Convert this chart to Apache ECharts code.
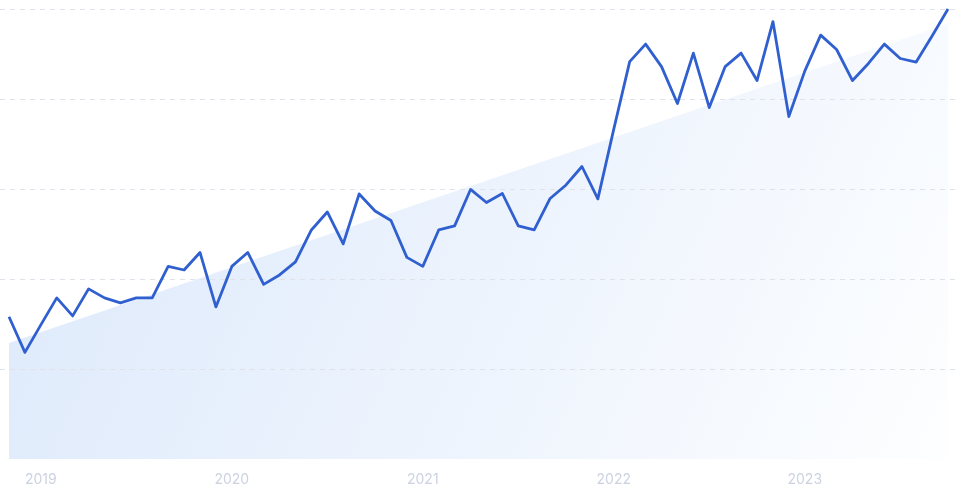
<!DOCTYPE html>
<html>
<head>
<meta charset="utf-8">
<script src="https://cdn.jsdelivr.net/npm/echarts@6/dist/echarts.min.js"></script>
<style>
  html, body { margin: 0; padding: 0; background: #ffffff; }
  #chart { width: 957px; height: 490px; }
</style>
</head>
<body>
<div id="chart"></div>
<script>
const categories = [
  '2018-11','2018-12',
  '2019-01','2019-02','2019-03','2019-04','2019-05','2019-06','2019-07','2019-08','2019-09','2019-10','2019-11','2019-12',
  '2020-01','2020-02','2020-03','2020-04','2020-05','2020-06','2020-07','2020-08','2020-09','2020-10','2020-11','2020-12',
  '2021-01','2021-02','2021-03','2021-04','2021-05','2021-06','2021-07','2021-08','2021-09','2021-10','2021-11','2021-12',
  '2022-01','2022-02','2022-03','2022-04','2022-05','2022-06','2022-07','2022-08','2022-09','2022-10','2022-11','2022-12',
  '2023-01','2023-02','2023-03','2023-04','2023-05','2023-06','2023-07','2023-08','2023-09','2023-10'
];
const values = [
  31.6, 23.7,
  29.8, 35.8, 31.8, 37.8, 35.8, 34.7, 35.8, 35.8, 42.8, 42.0, 45.9, 33.8,
  42.8, 45.9, 38.8, 40.9, 43.8, 50.9, 54.9, 47.8, 58.9, 55.1, 53.0, 44.8,
  42.8, 50.9, 51.8, 59.9, 57.0, 59.0, 51.8, 50.9, 57.9, 60.9, 65.0, 57.8,
  73.3, 88.3, 92.2, 87.2, 79.0, 90.2, 78.1, 87.2, 90.2, 84.1, 97.2, 76.1,
  86.2, 94.2, 91.0, 84.1, 87.9, 92.2, 89.0, 88.2, 94.0, 100
];
const trendStart = ['2018-11', 25.8];
const trendEnd = ['2023-10', 96.7];
const yTicks = [0, 20, 40, 60, 80, 100];

const chart = echarts.init(document.getElementById('chart'));
chart.setOption({
  animation: false,
  backgroundColor: '#ffffff',
  grid: [
    { left: 0, right: 0, top: 9, bottom: 31, containLabel: false },
    { left: 9, right: 9, top: 9, bottom: 31, containLabel: false }
  ],
  xAxis: [
    { gridIndex: 0, type: 'category', data: categories, boundaryGap: false, show: false },
    {
      gridIndex: 1, type: 'category', data: categories, boundaryGap: false,
      axisLine: { show: false }, axisTick: { show: false }, splitLine: { show: false },
      axisLabel: {
        interval: function (i, v) { return v.slice(5) === '01'; },
        formatter: function (v) { return v.slice(0, 4); },
        color: '#cdd2e2', fontFamily: 'Inter', fontSize: 14, margin: 14
      }
    }
  ],
  yAxis: [
    {
      gridIndex: 0, type: 'value', min: yTicks[0], max: yTicks[yTicks.length - 1], interval: 20,
      z: 2,
      axisLine: { show: false }, axisTick: { show: false }, axisLabel: { show: false },
      splitLine: {
        show: true,
        lineStyle: { color: '#dfe2e8', type: [5, 5], width: 1 },
        showMinLine: false
      }
    },
    {
      gridIndex: 1, type: 'value', min: yTicks[0], max: yTicks[yTicks.length - 1], interval: 20,
      show: false, splitLine: { show: false }
    }
  ],
  series: [
    {
      type: 'line', xAxisIndex: 1, yAxisIndex: 1, z: 1,
      data: [trendStart, trendEnd],
      symbol: 'none', silent: true,
      lineStyle: { width: 0, opacity: 0 },
      areaStyle: {
        opacity: 1,
        color: new echarts.graphic.LinearGradient(0, 0, 1, 1, [
          { offset: 0, color: '#dbe8fb' },
          { offset: 1, color: '#fdfeff' }
        ])
      }
    },
    {
      type: 'line', xAxisIndex: 1, yAxisIndex: 1, z: 3,
      data: values,
      symbol: 'none',
      lineStyle: { color: '#3060cf', width: 2.8, join: 'round' }
    }
  ]
});
</script>
</body>
</html>
